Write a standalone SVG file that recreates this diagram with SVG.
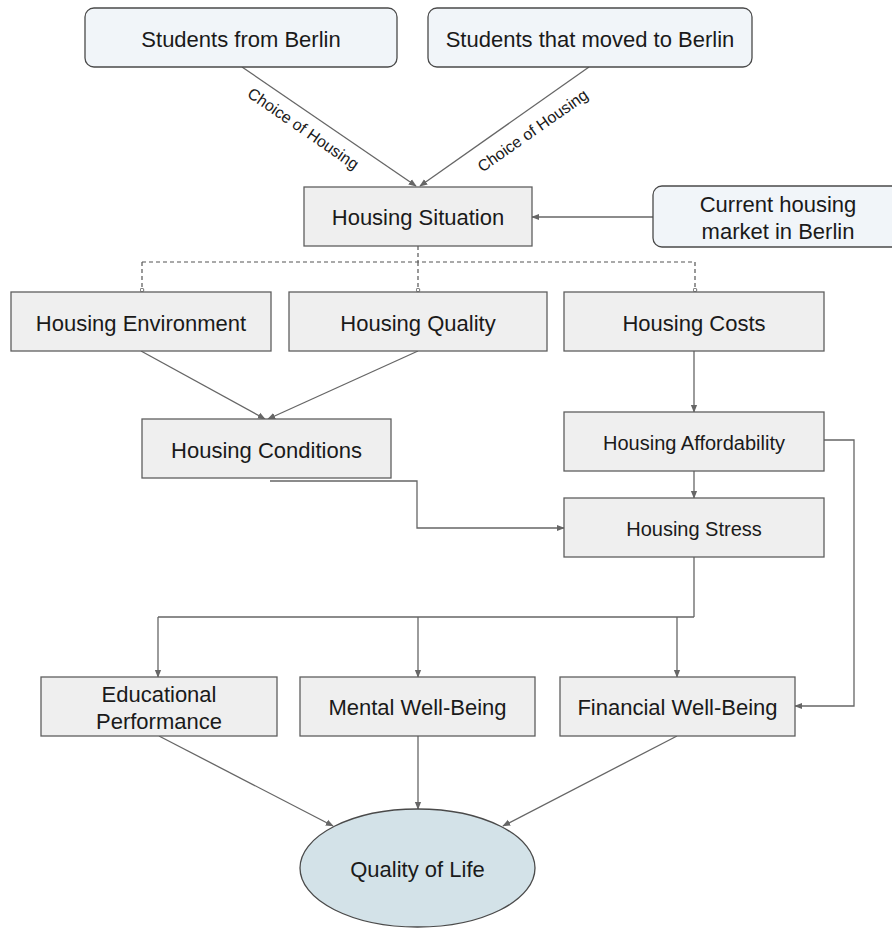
<svg xmlns="http://www.w3.org/2000/svg" width="892" height="928" viewBox="0 0 892 928">
<style>
  .box { fill: #efefef; stroke: #5f5f5f; stroke-width: 1.3; }
  .src { fill: #f1f5f9; stroke: #4a4a4a; stroke-width: 1.3; }
  .oval { fill: #d3e2e8; stroke: #4a4a4a; stroke-width: 1.3; }
  .t { font-family: "Liberation Sans", Arial, sans-serif; font-size: 22px; fill: #1a1a1a; text-anchor: middle; }
  .t20 { font-size: 20px; }
  .lbl { font-family: "Liberation Sans", Arial, sans-serif; font-size: 16px; fill: #1a1a1a; text-anchor: middle; }
  .c { fill: none; stroke: #666666; stroke-width: 1.3; }
  .a { marker-end: url(#arr); }
  .d { fill: none; stroke: #555555; stroke-width: 1.2; stroke-dasharray: 4 3; }
</style>
<defs>
  <marker id="arr" viewBox="0 0 10 10" refX="9" refY="5" markerWidth="8" markerHeight="8" markerUnits="userSpaceOnUse" orient="auto">
    <path d="M0,1 L10,5 L0,9 z" fill="#666666"/>
  </marker>
  <marker id="dot" viewBox="0 0 6 6" refX="3" refY="3" markerWidth="5" markerHeight="5" markerUnits="userSpaceOnUse" orient="auto">
    <circle cx="3" cy="3" r="2.2" fill="#ffffff" stroke="#555555" stroke-width="1"/>
  </marker>
</defs>
<rect width="892" height="928" fill="#ffffff"/>

<g id="connectors">
  <line class="c a" x1="242" y1="67" x2="416" y2="186"/>
  <line class="c a" x1="589" y1="67" x2="420" y2="186"/>
  <line class="c a" x1="653" y1="217" x2="532" y2="217"/>
  <path class="d" d="M418,246 V262"/>
  <path class="d" d="M142,262 H695"/>
  <path class="d" d="M142,262 V290" marker-end="url(#dot)"/>
  <path class="d" d="M418,262 V290" marker-end="url(#dot)"/>
  <path class="d" d="M695,262 V290" marker-end="url(#dot)"/>
  <line class="c a" x1="141" y1="351" x2="265" y2="419"/>
  <line class="c a" x1="418" y1="351" x2="268" y2="419"/>
  <line class="c a" x1="694" y1="351" x2="694" y2="412"/>
  <line class="c a" x1="694" y1="471" x2="694" y2="498"/>
  <path class="c a" d="M270,481 H417 V528 H564"/>
  <path class="c a" d="M824,440 H854 V706 H795"/>
  <path class="c" d="M694,557 V617 M158,617 H694"/>
  <line class="c a" x1="158" y1="617" x2="158" y2="677"/>
  <line class="c a" x1="418" y1="617" x2="418" y2="677"/>
  <line class="c a" x1="677" y1="617" x2="677" y2="677"/>
  <line class="c a" x1="159" y1="736" x2="333" y2="826"/>
  <line class="c a" x1="418" y1="736" x2="418" y2="809"/>
  <line class="c a" x1="677" y1="736" x2="503" y2="826"/>
  <text class="lbl" transform="translate(303,129) rotate(34.6)" y="5">Choice of Housing</text>
  <text class="lbl" transform="translate(533,131) rotate(-35.1)" y="5">Choice of Housing</text>
</g>

<g id="students-from-berlin">
  <rect class="src" x="85" y="8" width="312" height="59" rx="9"/>
  <text class="t" x="241" y="47">Students from Berlin</text>
</g>
<g id="students-moved">
  <rect class="src" x="428" y="8" width="324" height="59" rx="9"/>
  <text class="t" x="590" y="47">Students that moved to Berlin</text>
</g>
<g id="housing-situation">
  <rect class="box" x="304" y="187" width="228" height="59"/>
  <text class="t" x="418" y="225">Housing Situation</text>
</g>
<g id="housing-market">
  <rect class="src" x="653" y="186" width="250" height="61" rx="9"/>
  <text class="t" x="778" y="212">Current housing</text>
  <text class="t" x="778" y="239">market in Berlin</text>
</g>
<g id="housing-environment">
  <rect class="box" x="11" y="292" width="260" height="59"/>
  <text class="t" x="141" y="331">Housing Environment</text>
</g>
<g id="housing-quality">
  <rect class="box" x="289" y="292" width="258" height="59"/>
  <text class="t" x="418" y="331">Housing Quality</text>
</g>
<g id="housing-costs">
  <rect class="box" x="564" y="292" width="260" height="59"/>
  <text class="t" x="694" y="331">Housing Costs</text>
</g>
<g id="housing-conditions">
  <rect class="box" x="142" y="419" width="249" height="59"/>
  <text class="t" x="266.5" y="457.5">Housing Conditions</text>
</g>
<g id="housing-affordability">
  <rect class="box" x="564" y="412" width="260" height="59"/>
  <text class="t t20" x="694" y="449.5">Housing Affordability</text>
</g>
<g id="housing-stress">
  <rect class="box" x="564" y="498" width="260" height="59"/>
  <text class="t t20" x="694" y="535.5">Housing Stress</text>
</g>
<g id="educational-performance">
  <rect class="box" x="41" y="677" width="236" height="59"/>
  <text class="t" x="159" y="702">Educational</text>
  <text class="t" x="159" y="729">Performance</text>
</g>
<g id="mental-well-being">
  <rect class="box" x="300" y="677" width="235" height="59"/>
  <text class="t" x="417.5" y="715">Mental Well-Being</text>
</g>
<g id="financial-well-being">
  <rect class="box" x="560" y="677" width="235" height="59"/>
  <text class="t" x="677.5" y="715">Financial Well-Being</text>
</g>
<g id="quality-of-life">
  <ellipse class="oval" cx="417.5" cy="868" rx="117.5" ry="59"/>
  <text class="t" x="417.5" y="877">Quality of Life</text>
</g>
</svg>
